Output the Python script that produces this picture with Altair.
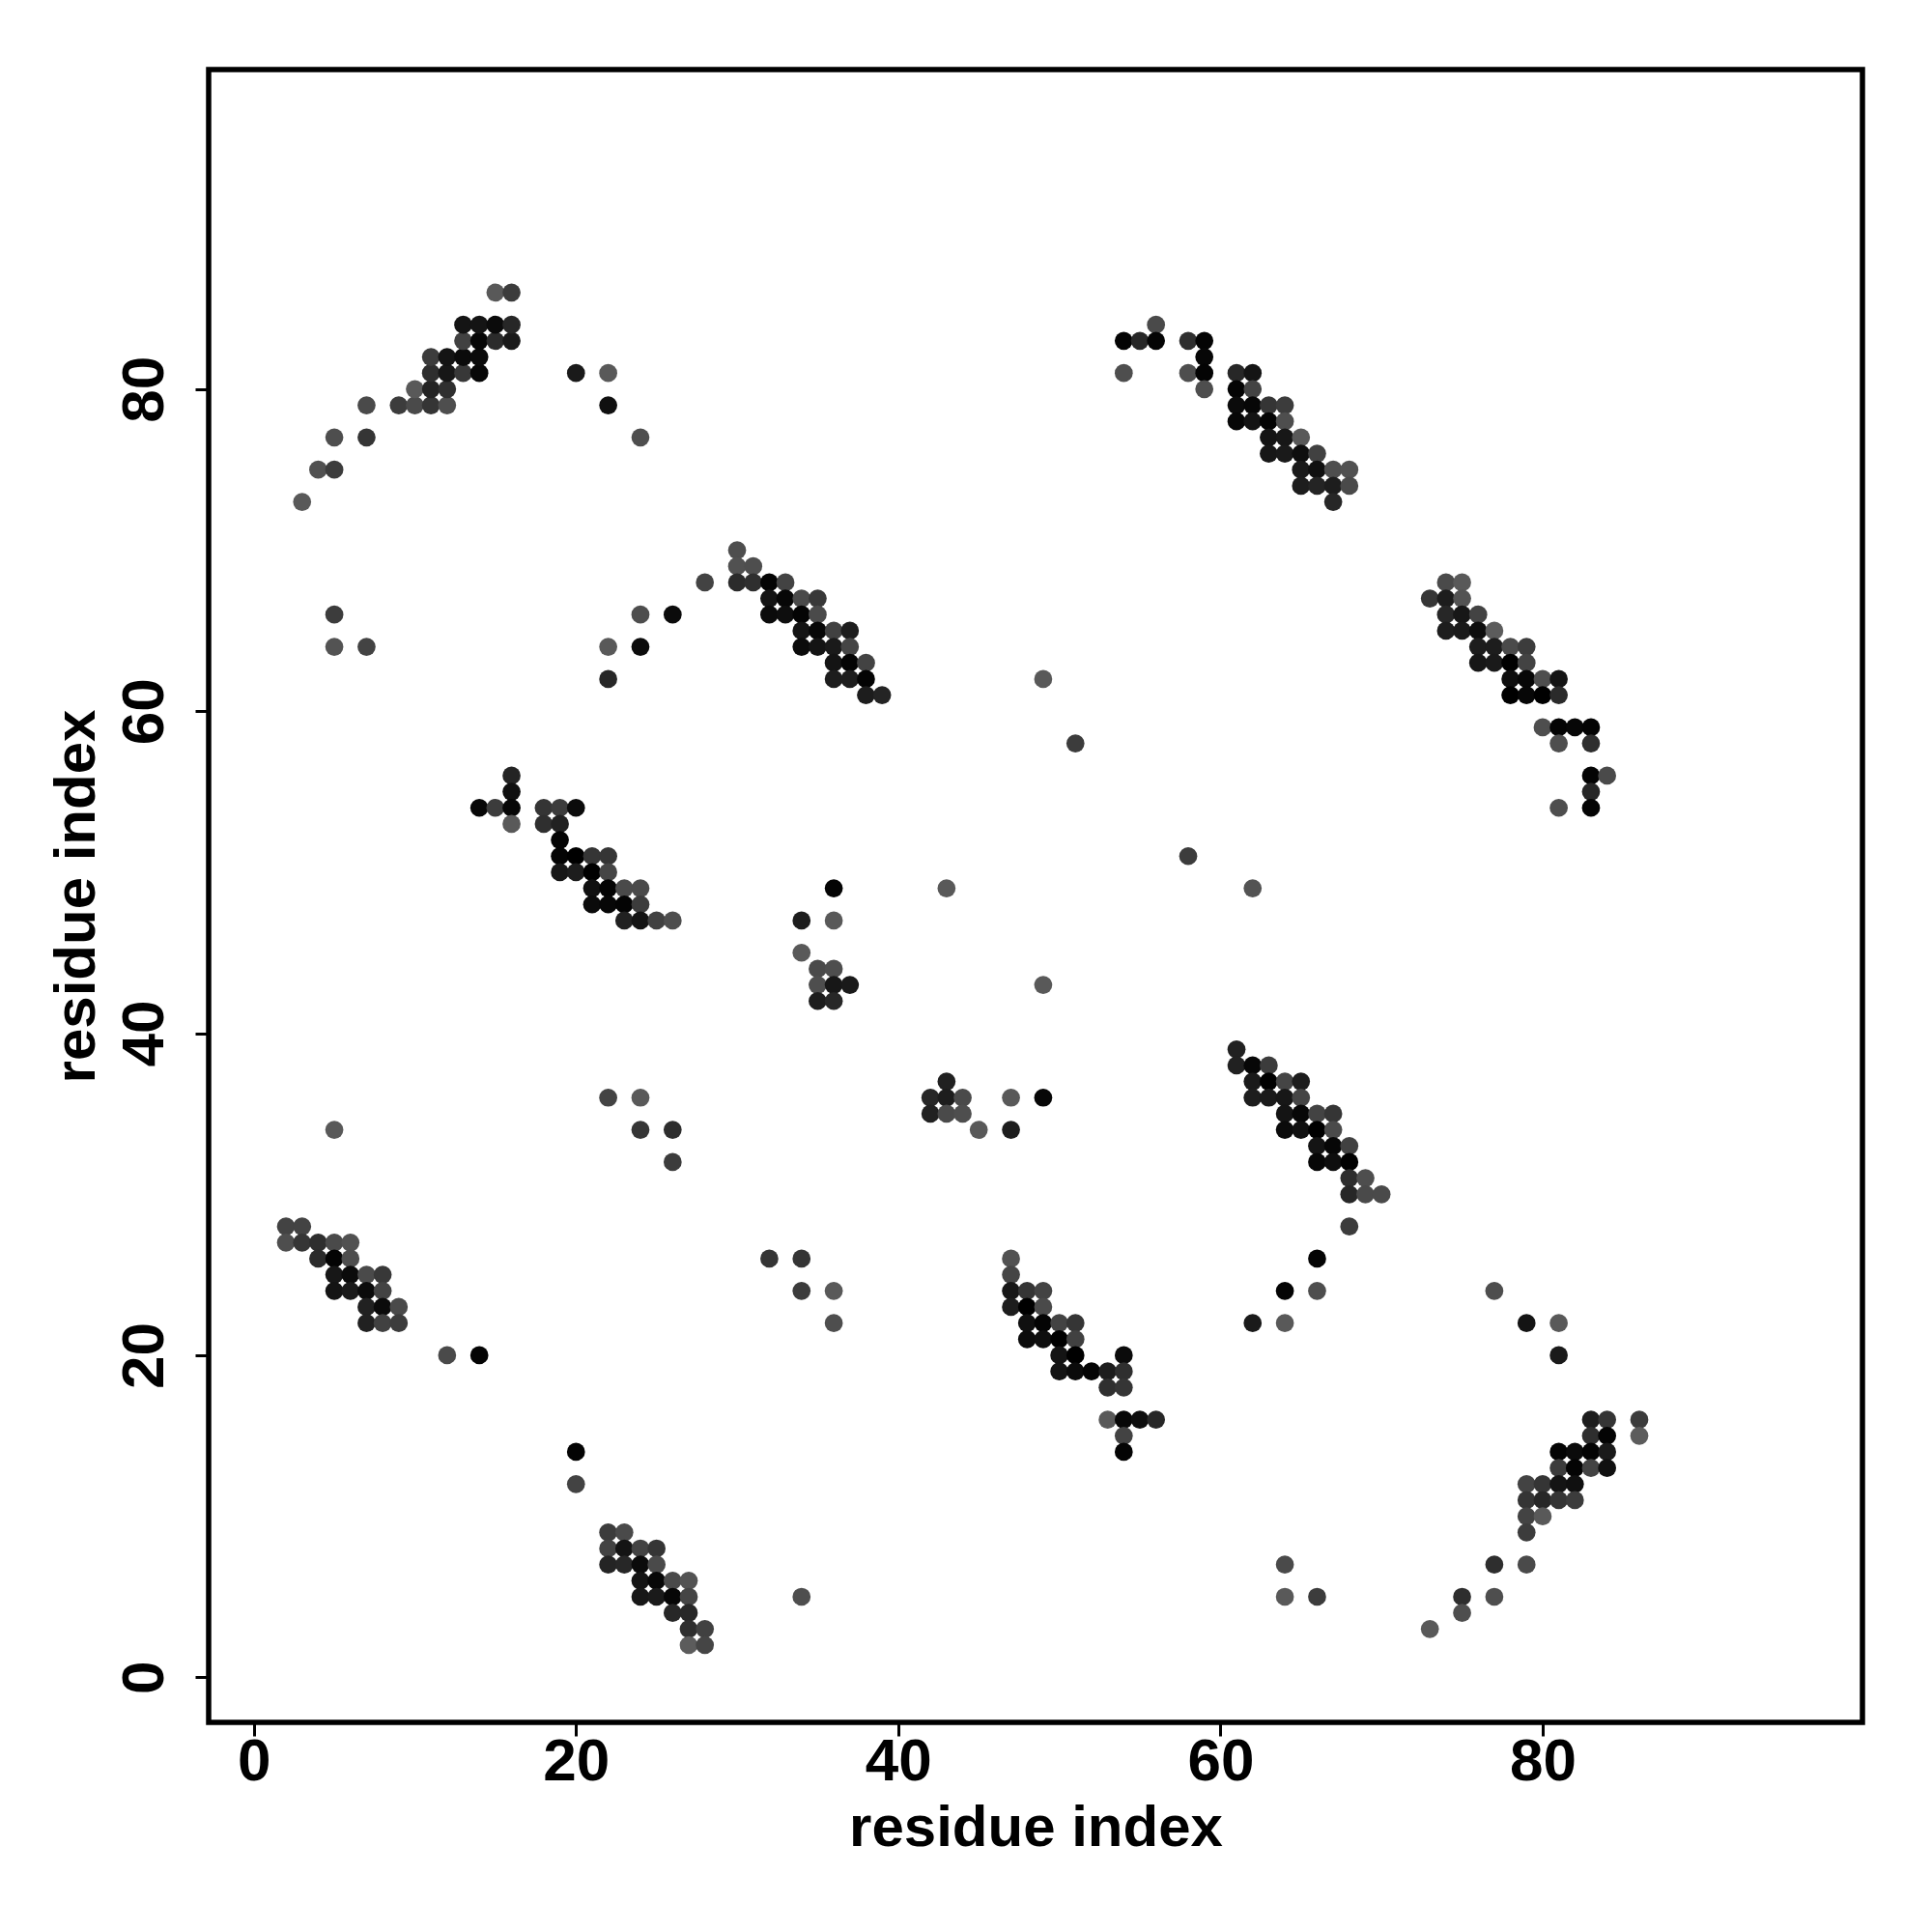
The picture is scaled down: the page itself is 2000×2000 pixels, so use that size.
import altair as alt
import pandas as pd

# (x residue, y residue, grey level), grouped by cluster
top_left = [(3,73,96),(4,75,88),(5,75,64),(5,77,85),(7,77,56),(7,79,80),(9,79,64),(10,79,80),(11,79,56),(12,79,85),
            (10,80,96),(11,80,36),(12,80,50),(11,81,48),(12,81,20),(13,81,60),(14,81,5),(11,82,64),(12,82,16),(13,82,8),(14,82,8),
            (13,83,70),(14,83,5),(15,83,45),(16,83,24),(13,84,16),(14,84,16),(15,84,8),(16,84,40),(15,86,96),(16,86,64)]
top_right = [(56,84,80),(54,83,3),(55,83,40),(56,83,3),(58,83,50),(59,83,3),(59,82,5),(54,81,85),(58,81,85),(59,81,3),(61,81,40),(62,81,16),
             (59,80,85),(61,80,3),(62,80,72),(61,79,8),(62,79,5),(63,79,56),(64,79,64),(61,78,5),(62,78,16),(63,78,3),(64,78,85),
             (63,77,16),(64,77,20),(65,77,96),(63,76,20),(64,76,24),(65,76,10),(66,76,70),(65,75,24),(66,75,12),(67,75,85),(68,75,88),
             (65,74,28),(66,74,36),(67,74,28),(68,74,80),(67,73,40)]
mid_a = [(30,70,85),(30,69,88),(31,69,85),(28,68,72),(30,68,45),(31,68,50),(32,68,3),(33,68,72),(32,67,16),(33,67,5),(34,67,80),(35,67,60),
         (32,66,8),(33,66,10),(34,66,3),(35,66,80),(34,65,16),(35,65,5),(36,65,70),(37,65,28),(34,64,8),(35,64,16),(36,64,24),(37,64,75),
         (36,63,16),(37,63,3),(38,63,72),(36,62,28),(37,62,28),(38,62,3),(38,61,28),(39,61,36)]
mid_b = [(74,68,80),(75,68,96),(73,67,58),(74,67,28),(75,67,90),(74,66,40),(75,66,20),(76,66,72),(74,65,28),(75,65,24),(76,65,10),(77,65,100),
         (76,64,28),(77,64,28),(78,64,80),(79,64,64),(76,63,20),(77,63,24),(78,63,0),(79,63,72),(78,62,10),(79,62,5),(80,62,85),(81,62,16),
         (78,61,0),(79,61,5),(80,61,0),(81,61,45),(80,59,85),(81,59,3),(82,59,5),(83,59,3),(81,58,85),(83,58,50),(83,56,3),(84,56,80),
         (83,55,40),(81,54,85),(83,54,3)]
mid_c = [(16,56,36),(16,55,12),(14,54,5),(15,54,64),(16,54,5),(18,54,56),(19,54,64),(20,54,8),(16,53,96),(18,53,50),(19,53,32),(19,52,3),
         (19,51,3),(20,51,0),(21,51,56),(22,51,56),(19,50,20),(20,50,28),(21,50,0),(22,50,75),(21,49,12),(22,49,3),(23,49,80),(24,49,80),
         (21,48,8),(22,48,5),(23,48,3),(24,48,64),(23,47,32),(24,47,16),(25,47,70),(26,47,85)]
small_a = [(36,49,3),(43,49,96),(34,47,28),(36,47,96),(34,45,96),(35,44,80),(36,44,85),(35,43,85),(36,43,20),(37,43,24),(35,42,28),(36,42,40)]
small_b = [(43,37,32),(42,36,40),(43,36,28),(44,36,80),(42,35,32),(43,35,80),(44,35,85),(45,34,96),(47,36,96),(47,34,28),(49,36,5)]
low_a = [(61,39,32),(61,38,32),(62,38,5),(63,38,64),(62,37,24),(63,37,0),(64,37,75),(65,37,28),(62,36,28),(63,36,24),(64,36,20),(65,36,75),
         (64,35,16),(65,35,5),(66,35,72),(67,35,56),(64,34,8),(65,34,12),(66,34,0),(67,34,80),(66,33,16),(67,33,5),(68,33,70),
         (66,32,5),(67,32,10),(68,32,0),(68,31,48),(69,31,85),(68,30,40),(69,30,80),(70,30,80),(68,28,64)]
low_b = [(47,26,88),(47,25,75),(47,24,20),(48,24,56),(49,24,72),(47,23,28),(48,23,0),(49,23,80),(48,22,12),(49,22,3),(50,22,72),(51,22,56),
         (48,21,8),(49,21,10),(50,21,0),(51,21,70),(50,20,16),(51,20,0),(54,20,8),(50,19,16),(51,19,8),(52,19,3),(53,19,28),(54,19,50),
         (53,18,50),(54,18,56),(53,16,96),(54,16,5),(55,16,10),(56,16,40),(54,15,72),(54,14,3)]
low_c = [(2,28,72),(3,28,72),(2,27,85),(3,27,56),(4,27,48),(5,27,80),(6,27,88),(4,26,45),(5,26,3),(6,26,85),(5,25,20),(6,25,8),(7,25,80),(8,25,60),
         (5,24,16),(6,24,24),(7,24,8),(8,24,72),(7,23,32),(8,23,8),(9,23,80),(7,22,32),(8,22,70),(9,22,64)]
bottom_a = [(22,9,64),(23,9,80),(22,8,72),(23,8,16),(24,8,72),(25,8,56),(22,7,36),(23,7,40),(24,7,8),(25,7,80),(24,6,16),(25,6,5),(26,6,80),(27,6,90),
            (24,5,20),(25,5,24),(26,5,5),(27,5,75),(26,4,40),(27,4,40),(27,3,50),(28,3,70),(27,2,100),(28,2,75)]
bottom_b = [(83,16,28),(84,16,56),(86,16,64),(83,15,48),(84,15,3),(86,15,100),(81,14,3),(82,14,8),(83,14,3),(84,14,24),(81,13,64),(82,13,3),(83,13,72),(84,13,12),
            (79,12,72),(80,12,56),(81,12,16),(82,12,12),(79,11,56),(80,11,40),(81,11,56),(82,11,64),(79,10,72),(80,10,96),(79,9,64),(77,7,48),(79,7,80)]
isolated = [(20,81,24),(22,81,96),(22,79,12),(24,77,85),(5,66,64),(5,64,90),(7,64,72),(22,64,96),(24,66,85),(24,64,8),(26,66,8),(22,62,40),
            (49,62,96),(51,58,64),(58,51,64),(62,49,90),(49,43,96),(5,34,96),(22,36,72),(24,36,96),(24,34,56),(26,34,48),(26,32,64),
            (32,26,56),(34,26,56),(34,24,64),(36,24,96),(36,22,85),(12,20,80),(14,20,3),(20,14,3),(20,12,72),(34,5,85),(64,7,80),(64,5,96),(66,5,64),
            (62,22,24),(64,24,3),(64,22,96),(66,26,3),(66,24,85),(77,24,85),(79,22,16),(81,22,96),(81,20,24),(73,3,96),(75,5,48),(75,4,85),(77,5,85)]

tick_values = [0, 20, 40, 60, 80]
axis_title = "residue index"

rows = top_left + top_right + mid_a + mid_b + mid_c + small_a + small_b + low_a + low_b + low_c + bottom_a + bottom_b + isolated
df = pd.DataFrame(rows, columns=["x", "y", "g"])
FONT = "Liberation Sans"

def make_axis(pad, tpad, **kw):
    return alt.Axis(values=tick_values, grid=False, domain=False, tickColor="black", tickWidth=3, tickSize=14,
                    labelFont=FONT, labelFontSize=62, labelFontWeight="bold", labelColor="black", labelPadding=pad,
                    titleFont=FONT, titleFontSize=60, titleFontWeight="bold", titleColor="black", titlePadding=tpad,
                    labelOverlap=False, labelFlush=False, title=axis_title, **kw)

chart = (
    alt.Chart(df)
    .mark_circle(size=350, opacity=1, stroke=None)
    .encode(
        x=alt.X("x:Q", scale=alt.Scale(domain=[-2.8, 99.85], nice=False, zero=False), axis=make_axis(-4, 9)),
        y=alt.Y("y:Q", scale=alt.Scale(domain=[-2.8, 99.85], nice=False, zero=False),
                axis=make_axis(21, 8, labelAngle=270, labelAlign="center", labelBaseline="bottom")),
        color=alt.Color("g:Q", scale=alt.Scale(domain=[0, 255], range=["#000000", "#ffffff"]), legend=None),
    )
    .properties(width=1712, height=1711, autosize="none",
                padding={"left": 208, "top": 64, "right": 60, "bottom": 200}, background="white")
    .configure_view(stroke="black", strokeWidth=5.5)
)
chart.save("out.html", embed_options={"renderer": "svg", "actions": False})
